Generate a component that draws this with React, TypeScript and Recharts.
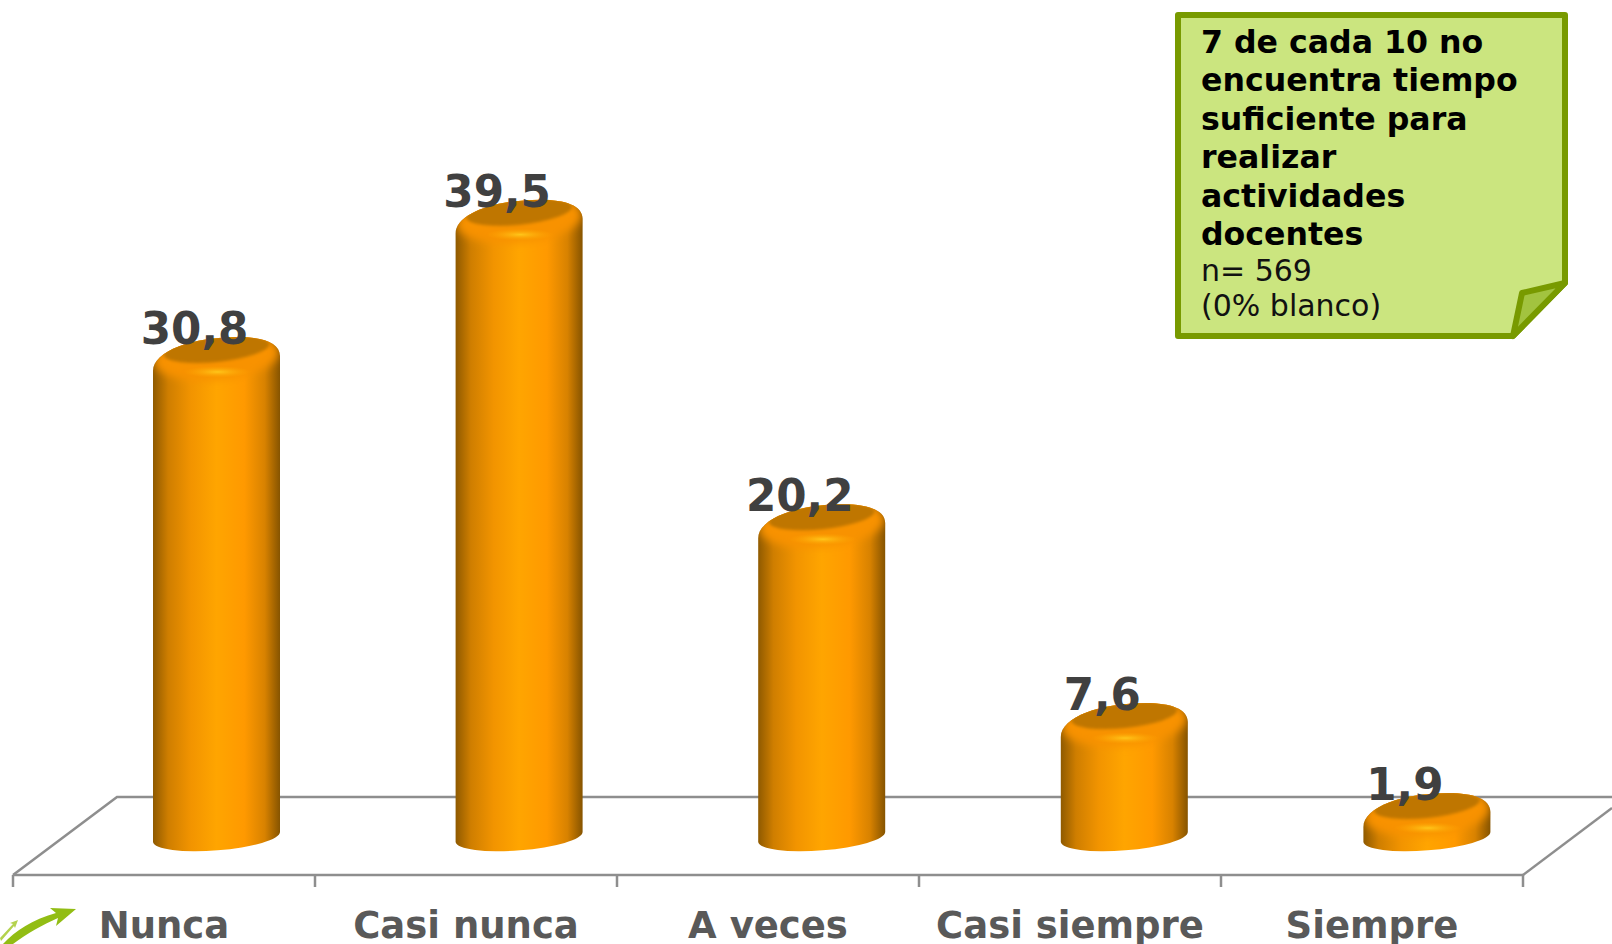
import React from "react";
import { BarChart, Bar, XAxis, YAxis, LabelList } from "recharts";

const categories = ["Nunca", "Casi nunca", "A veces", "Casi siempre", "Siempre"];
const values = [30.8, 39.5, 20.2, 7.6, 1.9];
const noteTitle = ["7 de cada 10 no", "encuentra tiempo", "suficiente para", "realizar", "actividades", "docentes"];
const noteSub = ["n= 569", "(0% blanco)"];

const chartData = categories.map((name, i) => ({ name, value: values[i] }));

const FONT = "'DejaVu Sans', Verdana, sans-serif";
const AXIS_COLOR = "#8e8e8e";

// the cylinders sit right of the tick label centre, drifting a little per category
const barShift = (i: number) => 52 + i * 0.6;

// 3D look: rounded shoulder on top, tilted ellipse at the bottom, horizontal gradient on the body
function Cylinder(props: any) {
  const { x, y, width, height, index } = props;
  const x0 = x + barShift(index);
  const x1 = x0 + width;
  const cx = x0 + width / 2;
  const baseY = y + height + 14;
  const outline =
    `M ${x0} ${y + 34} C ${x0} ${y + 14} ${x0 + 40} ${y} ${x0 + 85} ${y} ` +
    `C ${x0 + 110} ${y} ${x1} ${y + 6} ${x1} ${y + 19} ` +
    `L ${x1} ${baseY - 5} A 63.7 13.5 -4.5 0 1 ${x0} ${baseY + 5} Z`;
  return (
    <g>
      <path d={outline} fill="url(#cylSide)" />
      <clipPath id={`cap-${index}`}>
        <path d={outline} />
      </clipPath>
      <g clipPath={`url(#cap-${index})`}>
        <ellipse
          cx={cx}
          cy={y + 20}
          rx={width / 2 - 1}
          ry={23}
          transform={`rotate(-5 ${cx} ${y + 20})`}
          fill="#f89200"
          filter="url(#capBlur)"
        />
        <ellipse cx={cx + 1} cy={y + 35} rx={34} ry={6} fill="url(#capGlow)" />
        <ellipse
          cx={cx}
          cy={y + 12.5}
          rx={53}
          ry={12.5}
          transform={`rotate(-6 ${cx} ${y + 12.5})`}
          fill="#bf7600"
          filter="url(#faceBlur)"
        />
      </g>
    </g>
  );
}

// value label sits left of the cylinder centre and overlaps its top
function ValueLabel(props: any) {
  const { x, y, width, value, index } = props;
  return (
    <text
      x={x + barShift(index) + width / 2 - 22}
      y={y + 7}
      textAnchor="middle"
      fontFamily={FONT}
      fontWeight={700}
      fontSize={43.6}
      fill="#404040"
    >
      {String(value).replace(".", ",")}
    </text>
  );
}

// tick marks fall on the category edges, labels in the middle
function CategoryTick(props: any) {
  const { x, index, payload } = props;
  const half = 151;
  const axisY = 875;
  return (
    <g>
      <line x1={x - half} x2={x - half} y1={axisY} y2={axisY + 12} stroke={AXIS_COLOR} strokeWidth={2.5} />
      {index === categories.length - 1 && (
        <line x1={x + half} x2={x + half} y1={axisY} y2={axisY + 12} stroke={AXIS_COLOR} strokeWidth={2.5} />
      )}
      <text x={x} y={938} textAnchor="middle" fontFamily={FONT} fontWeight={700} fontSize={37} fill="#595959">
        {payload.value}
      </text>
    </g>
  );
}

function Note() {
  return (
    <g>
      <path d="M 1178 15 L 1565 15 L 1565 283 L 1513 336 L 1178 336 Z" fill="#cbe57f" stroke="#789a00" strokeWidth={6} strokeLinejoin="round" />
      <path d="M 1522 293 L 1565 283 L 1513 336 Z" fill="#a2c33f" stroke="#789a00" strokeWidth={6} strokeLinejoin="round" />
      {noteTitle.map((line, i) => (
        <text key={line} x={1201} y={53 + i * 38.4} fontFamily={FONT} fontWeight={700} fontSize={31.6} fill="#000">
          {line}
        </text>
      ))}
      {noteSub.map((line, i) => (
        <text key={line} x={1201} y={281 + i * 35} fontFamily={FONT} fontSize={30} fill="#111">
          {line}
        </text>
      ))}
    </g>
  );
}

function Floor() {
  return (
    <g fill="none" stroke={AXIS_COLOR} strokeWidth={2.5}>
      <path d="M 13 875 L 117 797 L 1612 797" />
      <path d="M 1523 875 L 1612 808" />
    </g>
  );
}

function Swoosh() {
  return (
    <g>
      <path
        d="M 3 944 C 16 930 32 920 56 913 L 50 908 L 76 909 L 56 926 L 58 918 C 42 925 28 933 13 944 Z"
        fill="#92bd14"
      />
      <path d="M 0 938 L 13 924 L 10 923 L 18 920 L 15 928 L 14 926 L 1 941 Z" fill="#b4d24e" />
    </g>
  );
}

export default function App() {
  return (
    <div style={{ position: "absolute", left: 0, top: 0 }}>
      <BarChart
        width={1612}
        height={944}
        data={chartData}
        margin={{ top: 0, right: 89, bottom: 0, left: 13 }}
        barSize={127}
      >
        <defs>
          <linearGradient id="cylSide" x1="0" x2="1" y1="0" y2="0">
            <stop offset="0" stopColor="#8f5a00" />
            <stop offset="0.12" stopColor="#cf7e00" />
            <stop offset="0.3" stopColor="#f29400" />
            <stop offset="0.5" stopColor="#ffa500" />
            <stop offset="0.72" stopColor="#ff9900" />
            <stop offset="0.88" stopColor="#d88200" />
            <stop offset="1" stopColor="#865400" />
          </linearGradient>
          <radialGradient id="capGlow">
            <stop offset="0" stopColor="#ffc61a" />
            <stop offset="1" stopColor="#ffa500" stopOpacity="0" />
          </radialGradient>
          <filter id="capBlur" x="-10%" y="-50%" width="120%" height="200%">
            <feGaussianBlur stdDeviation="4" />
          </filter>
          <filter id="faceBlur" x="-10%" y="-50%" width="120%" height="200%">
            <feGaussianBlur stdDeviation="1.5" />
          </filter>
        </defs>
        <Floor />
        <YAxis hide domain={[-3.295, 52.15]} />
        <XAxis
          dataKey="name"
          height={69}
          interval={0}
          axisLine={{ stroke: AXIS_COLOR, strokeWidth: 2.5 }}
          tickLine={false}
          tick={<CategoryTick />}
        />
        <Bar dataKey="value" shape={<Cylinder />} isAnimationActive={false}>
          <LabelList dataKey="value" content={<ValueLabel />} />
        </Bar>
        <Swoosh />
        <Note />
      </BarChart>
    </div>
  );
}
